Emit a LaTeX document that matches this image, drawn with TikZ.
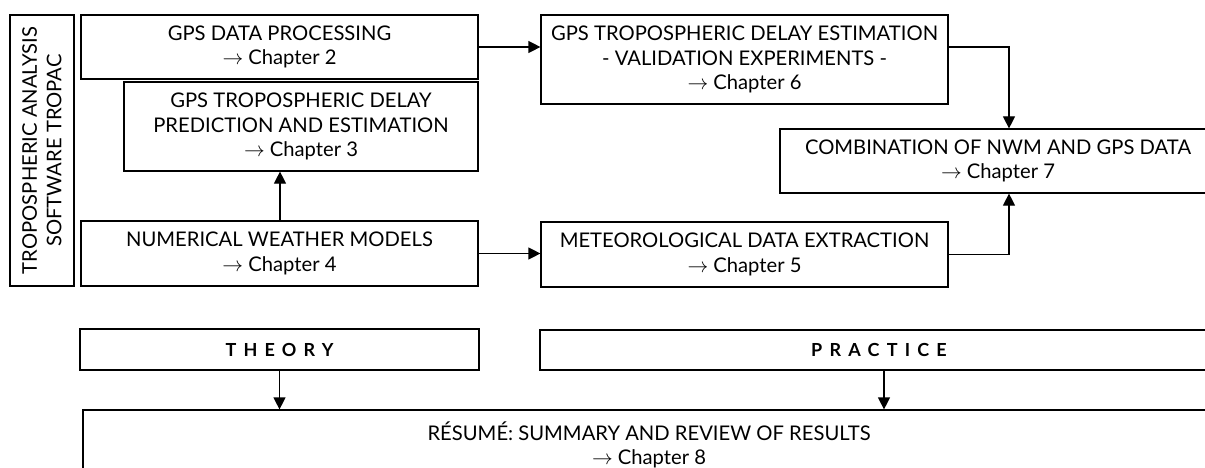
\documentclass[tikz,border=0pt]{standalone}
\usepackage{fontspec}
\setmainfont{Lato}
\usetikzlibrary{arrows.meta}
\tikzset{
  box/.style={draw, line width=1.2pt, align=center, inner sep=0pt,
    font=\fontsize{20.2}{24.5}\selectfont},
  headbox/.style={draw, line width=2.4pt, inner sep=0pt,
    font=\fontsize{18}{20}\selectfont\bfseries\addfontfeature{LetterSpace=40}},
  link/.style={line width=1.2pt, -{Triangle[length=12pt,width=12pt]}},
}
\newcommand{\chap}[1]{$\rightarrow$ Chapter #1}
\begin{document}
\begin{tikzpicture}[x=1pt,y=-1pt]
\useasboundingbox (0,0) rectangle (1205,468);
\fill[white] (0,0) rectangle (1205,468);
\clip (0,0) rectangle (1205,468);

% software block
\node[box, rotate=90, minimum width=271, minimum height=64] (side) at (42,150.5)
  {TROPOSPHERIC ANALYSIS\\SOFTWARE TROPAC};

% theory column
\node[box, minimum width=397, minimum height=64] (proc) at (279.5,47)
  {GPS DATA PROCESSING\\\chap{2}};
\node[box, minimum width=354, minimum height=89] (pred) at (301,126.5)
  {GPS TROPOSPHERIC DELAY\\PREDICTION AND ESTIMATION\\\chap{3}};
\node[box, minimum width=397, minimum height=65] (nwm) at (279.5,253.5)
  {NUMERICAL WEATHER MODELS\\\chap{4}};

% practice column
\node[box, minimum width=407, minimum height=89] (valid) at (744.5,59.5)
  {GPS TROPOSPHERIC DELAY ESTIMATION\\- VALIDATION EXPERIMENTS -\\\chap{6}};
\node[box, minimum width=407, minimum height=65] (met) at (744.5,254.5)
  {METEOROLOGICAL DATA EXTRACTION\\\chap{5}};
\node[box, minimum width=436, minimum height=64] (comb) at (998,161)
  {COMBINATION OF NWM AND GPS DATA\\\chap{7}};

% headings and summary
\node[headbox, minimum width=399, minimum height=41] (theory) at (279.5,349.5) {THEORY};
\node[headbox, minimum width=678, minimum height=40] (practice) at (879,350) {PRACTICE};
\node[box, minimum width=1132, minimum height=70] (resume) at (649,445)
  {RÉSUMÉ: SUMMARY AND REVIEW OF RESULTS\\\chap{8}};

% junction points on the combination box
\coordinate (combin) at ([xshift=11pt]comb.north);
\coordinate (combout) at ([xshift=11pt]comb.south);

% connectors
\draw[link] (nwm.north -| 280,0) -- (pred.south -| 280,0);
\draw[link] (proc.east) -- (proc.east -| valid.west);
\draw[link] (proc.east -| valid.east) -| (combin);
\draw[link] (nwm.east) -- (nwm.east -| met.west);
\draw[link] (met.east) -| (combout);
\draw[link] (theory.south) -- (theory.south |- resume.north);
\draw[link] ([xshift=5pt]practice.south) -- ([xshift=5pt]practice.south |- resume.north);
\end{tikzpicture}
\end{document}
